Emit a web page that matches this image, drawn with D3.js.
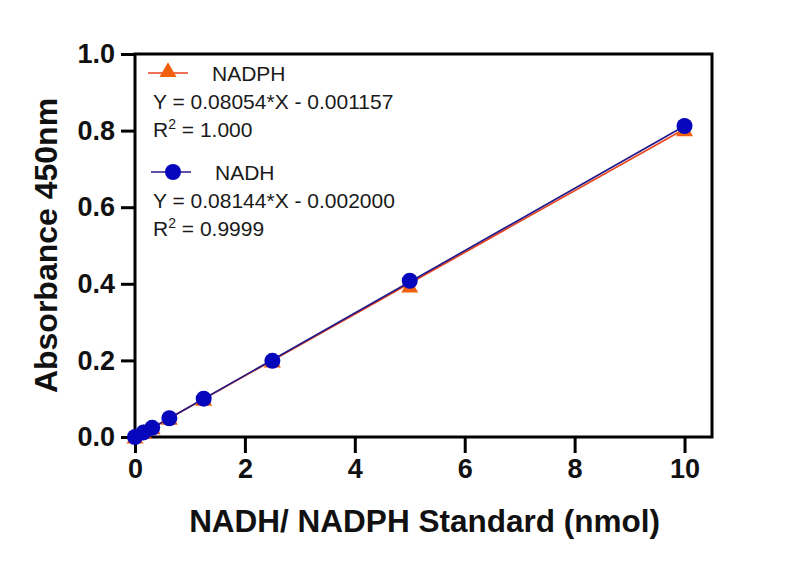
<!DOCTYPE html>
<html>
<head>
<meta charset="utf-8">
<script src="https://cdn.jsdelivr.net/npm/d3@7"></script>
<style>
  body { margin: 0; background: #fff; }
  svg { display: block; font-family: 'Liberation Sans', Arial, sans-serif; }
</style>
</head>
<body>
<svg></svg>
<script>
const width = 800
const height = 567
const margin = { top: 54, right: 88, bottom: 130, left: 135 }

// standard amounts (nmol)
const amounts = [0, 0.156, 0.3125, 0.625, 1.25, 2.5, 5, 10]
const nadphValues = [0, 0.012, 0.024, 0.049, 0.098, 0.198, 0.394, 0.802]
const nadhValues = [0, 0.012, 0.024, 0.049, 0.1, 0.199, 0.408, 0.812]

// fitted lines, end points
const nadphFit = [[0, -0.0012], [10, 0.804]]
const nadhFit = [[0, -0.002], [10, 0.812]]

const xTicks = [0, 2, 4, 6, 8, 10]
const yTicks = [0, 0.2, 0.4, 0.6, 0.8, 1.0]

const legendItems = [
  { name: 'NADPH', eq: 'Y = 0.08054*X - 0.001157', r2: '1.000' },
  { name: 'NADH', eq: 'Y = 0.08144*X - 0.002000', r2: '0.9999' },
]

const orange = '#f2600f'
const orangeLine = '#e8431c'
const blue = '#0606bc'
const blueLine = '#22198a'

const svg = d3.select('svg').attr('width', width).attr('height', height)

const x = d3
  .scaleLinear()
  .domain([0, 10.5])
  .range([margin.left, width - margin.right])

const y = d3
  .scaleLinear()
  .domain([0, 1])
  .range([height - margin.bottom, margin.top])

// axes
const xAxis = svg
  .append('g')
  .attr('transform', `translate(0,${height - margin.bottom})`)
  .call(d3.axisBottom(x).tickValues(xTicks).tickSize(16).tickPadding(6).tickFormat(d3.format('d')))

const yAxis = svg
  .append('g')
  .attr('transform', `translate(${margin.left},0)`)
  .call(d3.axisLeft(y).tickValues(yTicks).tickSize(14).tickPadding(6).tickFormat(d3.format('.1f')))

;[xAxis, yAxis].forEach((g) => {
  g.select('.domain').remove()
  g.selectAll('.tick line').attr('stroke', '#000').attr('stroke-width', 3)
  g.selectAll('.tick text')
    .attr('fill', '#111')
    .style('font-size', '27px')
    .style('font-weight', 'bold')
})

// frame
svg
  .append('rect')
  .attr('x', x(0))
  .attr('y', y(1))
  .attr('width', x(10.5) - x(0))
  .attr('height', y(0) - y(1))
  .attr('fill', 'none')
  .attr('stroke', '#000')
  .attr('stroke-width', 3)

// axis titles
svg
  .append('text')
  .attr('x', (x(0) + x(10.5)) / 2 + 1)
  .attr('y', 532)
  .attr('text-anchor', 'middle')
  .style('font-size', '31.5px')
  .style('font-weight', 'bold')
  .attr('fill', '#111')
  .text('NADH/ NADPH Standard (nmol)')

svg
  .append('text')
  .attr('transform', `translate(57,${(y(0) + y(1)) / 2}) rotate(-90)`)
  .attr('text-anchor', 'middle')
  .style('font-size', '32px')
  .style('font-weight', 'bold')
  .attr('fill', '#111')
  .text('Absorbance 450nm')

// fit lines
const line = d3
  .line()
  .x((d) => x(d[0]))
  .y((d) => y(d[1]))

svg
  .append('path')
  .attr('d', line(nadphFit))
  .attr('fill', 'none')
  .attr('stroke', orangeLine)
  .attr('stroke-width', 1.7)

svg
  .append('path')
  .attr('d', line(nadhFit))
  .attr('fill', 'none')
  .attr('stroke', blueLine)
  .attr('stroke-width', 1.7)

// points
const triangle = d3.symbol().type(d3.symbolTriangle).size(125)

svg
  .append('g')
  .selectAll('path')
  .data(amounts)
  .join('path')
  .attr('d', triangle)
  .attr('transform', (d, i) => `translate(${x(d)},${y(nadphValues[i]) + 1.5})`)
  .attr('fill', orange)

svg
  .append('g')
  .selectAll('circle')
  .data(amounts)
  .join('circle')
  .attr('cx', (d) => x(d))
  .attr('cy', (d, i) => y(nadhValues[i]))
  .attr('r', 8)
  .attr('fill', blue)

// legend
const legend = svg.append('g').style('font-size', '21px').attr('fill', '#1a1a1a')
const legendTop = [73, 172]
const legendLeft = [148, 151]

legendItems.forEach((item, i) => {
  const ly = legendTop[i]
  const lx = legendLeft[i]
  const g = legend.append('g')
  g.append('line')
    .attr('x1', lx)
    .attr('x2', lx + 40)
    .attr('y1', ly)
    .attr('y2', ly)
    .attr('stroke', i === 0 ? orangeLine : blueLine)
    .attr('stroke-width', 1.7)
  if (i === 0) {
    g.append('path')
      .attr('d', triangle)
      .attr('transform', `translate(${lx + 20},${ly - 1})`)
      .attr('fill', orange)
  } else {
    g.append('circle')
      .attr('cx', lx + 22)
      .attr('cy', ly)
      .attr('r', 8)
      .attr('fill', blue)
  }
  g.append('text')
    .attr('x', lx + 64)
    .attr('y', ly + 8)
    .text(item.name)
  g.append('text')
    .attr('x', 153)
    .attr('y', ly + 36)
    .text(item.eq)
  const r2 = g.append('text').attr('x', 153).attr('y', ly + 64)
  r2.append('tspan').text('R')
  r2.append('tspan').attr('dy', -8).style('font-size', '14px').text('2')
  r2.append('tspan').attr('dy', 8).text(` = ${item.r2}`)
})
</script>
</body>
</html>
